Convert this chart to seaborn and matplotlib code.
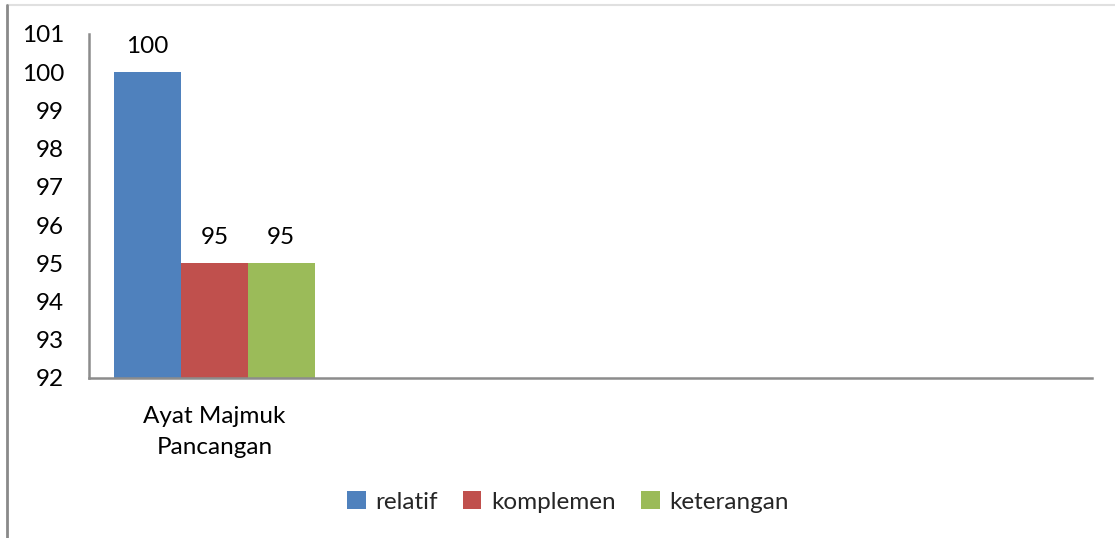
import pandas as pd
import matplotlib.pyplot as plt
import seaborn as sns
from matplotlib.lines import Line2D

# Data
categories = ['Ayat Majmuk\nPancangan']
series = ['relatif', 'komplemen', 'keterangan']
values = [100, 95, 95]
colors = ['#4F81BD', '#C0504D', '#9BBB59']

df = pd.DataFrame({
    'kategori': categories * len(series),
    'jenis': series,
    'nilai': values,
})

sns.set_style('white')
plt.rcParams['font.family'] = ['Lato', 'DejaVu Sans']
fs = 17.5

fig = plt.figure(figsize=(11.15, 5.38), dpi=100)
ax = fig.add_axes([89 / 1115, 1 - 378 / 538, (1092 - 89) / 1115, (378 - 34) / 538])

sns.barplot(data=df, x='kategori', y='nilai', hue='jenis', hue_order=series,
            palette=colors, saturation=1, width=0.8, linewidth=0, ax=ax)

# chart spans four category slots, only the first is filled
ax.set_xlim(-0.5, 3.5)
ax.set_ylim(92, 101)
ax.set_yticks(range(92, 102))
ax.set_xlabel('')
ax.set_ylabel('')

for c in ax.containers:
    ax.bar_label(c, fmt='%g', padding=11, fontsize=fs, color='#000000')

ax.tick_params(axis='y', length=0, pad=18, labelsize=fs, labelcolor='#000000')
ax.tick_params(axis='x', length=0, pad=20, labelsize=fs, labelcolor='#000000')
for lab in ax.get_xticklabels():
    lab.set_linespacing(1.6)

for side in ['top', 'right']:
    ax.spines[side].set_visible(False)
for side in ['left', 'bottom']:
    ax.spines[side].set_color('#8c8c8c')
    ax.spines[side].set_linewidth(1.8)

sns.move_legend(ax, 'center', bbox_to_anchor=(0.4776, -0.36), ncol=3,
                frameon=False, title=None, fontsize=fs,
                handlelength=0.75, handleheight=0.75, handletextpad=0.4,
                columnspacing=1.05)

# outer chart border pieces
fig.add_artist(Line2D([7 / 1115, 1], [1 - 5 / 538, 1 - 5 / 538],
                      transform=fig.transFigure, color='#e0e0e0', lw=1.5))
fig.add_artist(Line2D([7 / 1115, 7 / 1115], [0, 1 - 5 / 538],
                      transform=fig.transFigure, color='#8a8a8a', lw=2))

fig.savefig('out.png', dpi=100)
